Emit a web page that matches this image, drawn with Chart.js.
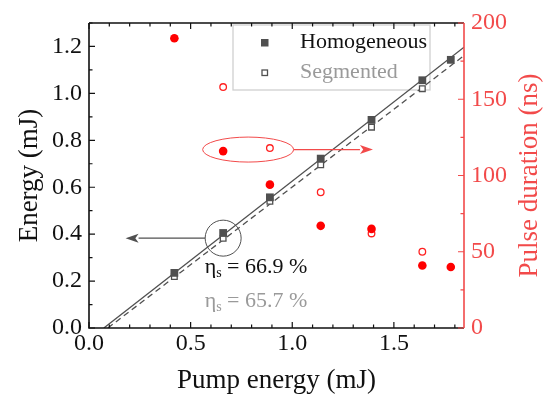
<!DOCTYPE html>
<html>
<head>
<meta charset="utf-8">
<script src="https://cdn.jsdelivr.net/npm/chart.js@4.4.1/dist/chart.umd.min.js"></script>
<style>
  html, body { margin: 0; padding: 0; background: #fff; }
</style>
</head>
<body>
<canvas id="myChart" width="549" height="399"></canvas>
<script>
// data
var pumpHom = [0.42, 0.66, 0.89, 1.14, 1.39, 1.64, 1.78];
var energyHom = [0.235, 0.405, 0.557, 0.722, 0.887, 1.056, 1.143];
var pumpSeg = [0.42, 0.66, 0.89, 1.14, 1.39, 1.64];
var energySeg = [0.219, 0.382, 0.540, 0.696, 0.856, 1.020];

var pulseHom = [190, 116, 94, 67, 65, 41, 40];          // filled red circles, x = pumpHom
var pulsePumpSeg = [0.66, 0.89, 1.14, 1.39, 1.64];
var pulseSeg = [158, 118, 89, 62, 50];                 // open red circles

// linear fits (end points)
var fitHomX = [0.073, 1.845];
var fitHomY = [0, 1.197];
var fitSegX = [0.093, 1.845];
var fitSegY = [0, 1.161];

var xTicks = [0, 0.5, 1.0, 1.5];
var yTicks = [0, 0.2, 0.4, 0.6, 0.8, 1.0, 1.2];
var y1Ticks = [0, 50, 100, 150, 200];

var FONT = "'Liberation Serif', serif";
var RED = '#f24a4a';
var GRAY = '#505050';

Chart.defaults.font.family = FONT;
Chart.defaults.color = '#111';

function pts(xs, ys) {
    return xs.map(function (x, i) { return { x: x, y: ys[i] }; });
}

function arrow(c, x0, y0, x1, y1, color) {
    var ang = Math.atan2(y1 - y0, x1 - x0);
    var len = 13, half = 4.5;
    c.strokeStyle = color;
    c.fillStyle = color;
    c.lineWidth = 1.2;
    c.beginPath();
    c.moveTo(x0, y0);
    c.lineTo(x1 - len * Math.cos(ang), y1 - len * Math.sin(ang));
    c.stroke();
    c.beginPath();
    c.moveTo(x1, y1);
    c.lineTo(x1 - len * Math.cos(ang) - half * Math.sin(ang), y1 - len * Math.sin(ang) + half * Math.cos(ang));
    c.lineTo(x1 - len * 0.75 * Math.cos(ang), y1 - len * 0.75 * Math.sin(ang));
    c.lineTo(x1 - len * Math.cos(ang) + half * Math.sin(ang), y1 - len * Math.sin(ang) - half * Math.cos(ang));
    c.closePath();
    c.fill();
}

function etaText(c, x, y, value, color) {
    c.fillStyle = color;
    c.textBaseline = 'middle';
    c.textAlign = 'left';
    c.font = "22px " + FONT;
    c.fillText('\u03b7', x, y);
    var w = c.measureText('\u03b7').width;
    c.font = "14px " + FONT;
    c.fillText('s', x + w, y + 6);
    var ws = c.measureText('s').width;
    c.font = "22px " + FONT;
    c.fillText(' = ' + value + ' %', x + w + ws, y);
}

var decor = {
    id: 'decor',
    beforeDatasetsDraw: function (chart) {
        var c = chart.ctx, a = chart.chartArea;
        c.save();
        // legend box (under the data)
        var bx = a.left + 144, by = a.top + 2;
        c.strokeStyle = '#d0d0d0';
        c.lineWidth = 1.3;
        c.strokeRect(bx, by, 197, 65);
        c.fillStyle = GRAY;
        c.fillRect(bx + 28, by + 14, 7.5, 7.5);
        c.strokeStyle = GRAY;
        c.lineWidth = 1.3;
        c.strokeRect(bx + 29, by + 45, 5.5, 5.5);
        c.font = "22px " + FONT;
        c.textBaseline = 'middle';
        c.fillStyle = '#111';
        c.fillText('Homogeneous', bx + 67, by + 17);
        c.fillStyle = '#9a9a9a';
        c.fillText('Segmented', bx + 67, by + 47);
        c.restore();
    },
    afterDatasetsDraw: function (chart) {
        var c = chart.ctx, a = chart.chartArea;
        var sx = chart.scales.x, sy = chart.scales.y, sy1 = chart.scales.y1;
        c.save();

        // spines
        c.lineWidth = 1.6;
        c.strokeStyle = '#111';
        c.beginPath();
        c.moveTo(a.left, a.top); c.lineTo(a.right, a.top);
        c.moveTo(a.left, a.top); c.lineTo(a.left, a.bottom); c.lineTo(a.right, a.bottom);
        c.stroke();
        c.strokeStyle = RED;
        c.beginPath();
        c.moveTo(a.right, a.top); c.lineTo(a.right, a.bottom);
        c.stroke();

        // inward ticks, majors and minors
        c.lineWidth = 1.2;
        c.strokeStyle = '#111';
        c.beginPath();
        for (var i = 0; i <= 18; i++) {
            var v = i / 10;
            var px = sx.getPixelForValue(v);
            var L = (i % 5 === 0) ? 6 : 3.5;
            c.moveTo(px, a.bottom); c.lineTo(px, a.bottom - L);
            c.moveTo(px, a.top); c.lineTo(px, a.top + L);
        }
        for (var j = 0; j <= 13; j++) {
            var py = sy.getPixelForValue(j / 10);
            var L2 = (j % 2 === 0) ? 6 : 3.5;
            c.moveTo(a.left, py); c.lineTo(a.left + L2, py);
        }
        c.stroke();
        c.strokeStyle = RED;
        c.beginPath();
        for (var k = 0; k <= 8; k++) {
            var py1 = sy1.getPixelForValue(k * 25);
            var L3 = (k % 2 === 0) ? 6 : 3.5;
            c.moveTo(a.right, py1); c.lineTo(a.right - L3, py1);
        }
        c.stroke();

        // circle + arrow pointing to left axis
        var cx = sx.getPixelForValue(0.66), cy = sy.getPixelForValue(0.383);
        c.strokeStyle = GRAY;
        c.lineWidth = 1;
        c.beginPath();
        c.arc(cx, cy, 18, 0, Math.PI * 2);
        c.stroke();
        arrow(c, cx - 18, cy, sx.getPixelForValue(0.18), cy, GRAY);

        // ellipse + arrow pointing to right axis
        var ex = sx.getPixelForValue(0.783), ey = sy1.getPixelForValue(117);
        c.strokeStyle = RED;
        c.lineWidth = 1;
        c.beginPath();
        c.ellipse(ex, ey, 45.5, 12.5, 0, 0, Math.PI * 2);
        c.stroke();
        arrow(c, ex + 45.5, ey, sx.getPixelForValue(1.397), ey, RED);

        // slope efficiencies
        etaText(c, sx.getPixelForValue(0.569), sy.getPixelForValue(0.259), '66.9', '#111');
        etaText(c, sx.getPixelForValue(0.569), sy.getPixelForValue(0.114), '65.7', '#9a9a9a');

        // right axis title, reading bottom to top
        c.translate(530, (a.top + a.bottom) / 2);
        c.rotate(-Math.PI / 2);
        c.font = "27px " + FONT;
        c.fillStyle = RED;
        c.textAlign = 'center';
        c.textBaseline = 'middle';
        c.fillText('Pulse duration (ns)', 0, 0);
        c.restore();
    }
};

var ctx = document.getElementById('myChart').getContext('2d');

var myChart = new Chart(ctx, {
    type: 'scatter',
    data: {
        datasets: [{
            label: 'Pulse homogeneous',
            data: pts(pumpHom, pulseHom),
            yAxisID: 'y1',
            pointStyle: 'circle',
            pointRadius: 4.3,
            backgroundColor: '#ff0000',
            borderColor: '#ff0000',
            borderWidth: 0
        }, {
            label: 'Pulse segmented',
            data: pts(pulsePumpSeg, pulseSeg),
            yAxisID: 'y1',
            pointStyle: 'circle',
            pointRadius: 3.3,
            backgroundColor: '#ffffff',
            borderColor: '#ff2020',
            borderWidth: 1.3
        }, {
            label: 'Homogeneous',
            data: pts(pumpHom, energyHom),
            yAxisID: 'y',
            pointStyle: 'rect',
            pointRadius: 5.5,
            backgroundColor: GRAY,
            borderColor: GRAY,
            borderWidth: 0
        }, {
            label: 'Segmented',
            data: pts(pumpSeg, energySeg),
            yAxisID: 'y',
            pointStyle: 'rect',
            pointRadius: 4,
            backgroundColor: '#ffffff',
            borderColor: GRAY,
            borderWidth: 1.3
        }, {
            label: 'Fit homogeneous',
            data: pts(fitHomX, fitHomY),
            yAxisID: 'y',
            showLine: true,
            pointRadius: 0,
            borderColor: GRAY,
            borderWidth: 1.3
        }, {
            label: 'Fit segmented',
            data: pts(fitSegX, fitSegY),
            yAxisID: 'y',
            showLine: true,
            pointRadius: 0,
            borderColor: GRAY,
            borderWidth: 1.3,
            borderDash: [6, 4]
        }]
    },
    options: {
        responsive: false,
        animation: false,
        devicePixelRatio: 1,
        layout: { padding: { top: 23, left: 0, right: 0, bottom: 0 } },
        plugins: {
            legend: { display: false },
            tooltip: { enabled: false }
        },
        scales: {
            x: {
                type: 'linear',
                position: 'bottom',
                min: 0,
                max: 1.845,
                afterBuildTicks: function (s) { s.ticks = xTicks.map(function (v) { return { value: v }; }); },
                afterFit: function (s) { s.height = 71; },
                ticks: {
                    callback: function (v) { return v.toFixed(1); },
                    font: { size: 24 },
                    color: '#111',
                    padding: 1,
                    maxRotation: 0,
                    autoSkip: false
                },
                grid: { display: false, drawTicks: false },
                border: { display: false },
                title: {
                    display: true,
                    text: 'Pump energy (mJ)',
                    font: { size: 27 },
                    color: '#111',
                    padding: { top: 0, bottom: 2 }
                }
            },
            y: {
                type: 'linear',
                position: 'left',
                min: 0,
                max: 1.3,
                afterBuildTicks: function (s) { s.ticks = yTicks.map(function (v) { return { value: v }; }); },
                afterFit: function (s) { s.width = 89; },
                ticks: {
                    callback: function (v) { return v.toFixed(1); },
                    font: { size: 24 },
                    color: '#111',
                    padding: 7,
                    autoSkip: false
                },
                grid: { display: false, drawTicks: false },
                border: { display: false },
                title: {
                    display: true,
                    text: 'Energy (mJ)',
                    font: { size: 27 },
                    color: '#111',
                    padding: { top: 14, bottom: 0 }
                }
            },
            y1: {
                type: 'linear',
                position: 'right',
                min: 0,
                max: 200,
                afterBuildTicks: function (s) { s.ticks = y1Ticks.map(function (v) { return { value: v }; }); },
                afterFit: function (s) { s.width = 85; },
                ticks: {
                    font: { size: 24 },
                    color: RED,
                    padding: 7,
                    autoSkip: false
                },
                grid: { display: false, drawTicks: false },
                border: { display: false }
            }
        }
    },
    plugins: [decor]
});
</script>
</body>
</html>
